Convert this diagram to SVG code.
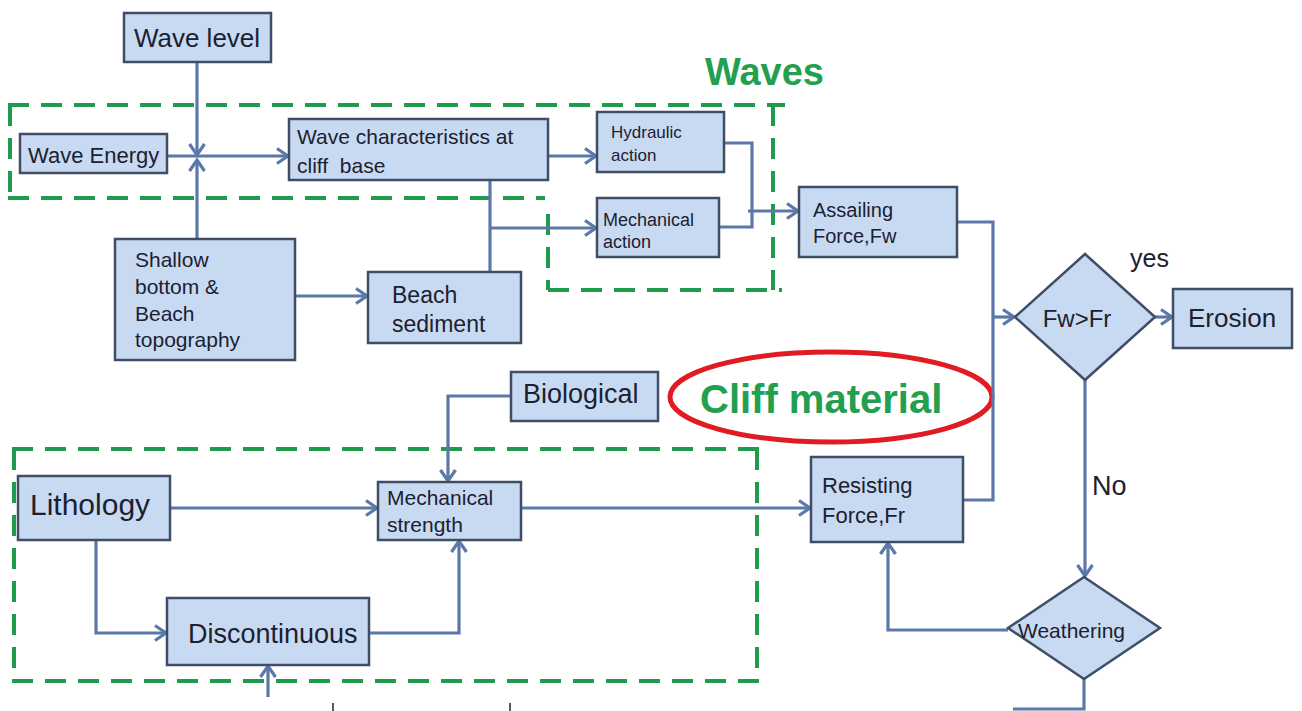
<svg xmlns="http://www.w3.org/2000/svg" width="1302" height="711" viewBox="0 0 1302 711">
<style>
.box{fill:#c8daf2;stroke:#3f4d66;stroke-width:2.5}
.t{font-family:"Liberation Sans",Arial,sans-serif;fill:#1b2130}
.c{fill:none;stroke:#5b78a9;stroke-width:3.2}
.d{fill:none;stroke:#1f9a4e;stroke-width:4;stroke-dasharray:21 12}
.g{font-family:"Liberation Sans",Arial,sans-serif;font-weight:bold;fill:#22a04f}
</style>
<defs>
<marker id="a" markerUnits="userSpaceOnUse" markerWidth="16" markerHeight="18" viewBox="0 0 16 18" refX="12" refY="9" orient="auto">
<path d="M1,1.5 L12,9 L1,16.5" fill="none" stroke="#5b78a9" stroke-width="3.2"/>
</marker>
</defs>
<rect width="1302" height="711" fill="#ffffff"/>

<g id="regions">
<path class="d" d="M8,105 H785 M10,105 V198 M8,198 H545 M548,214 V290 M548,290 H782 M773,105 V290"/>
<path class="d" d="M12,449 H760 M14,449 V668 M12,681 H762 M757,449 V670"/>
<text class="g" x="705" y="85" font-size="38">Waves</text>
<ellipse cx="831" cy="397" rx="161" ry="45" fill="none" stroke="#e01b22" stroke-width="5"/>
<text class="g" x="700" y="413" font-size="40">Cliff material</text>
</g>

<g id="connectors">
<path class="c" d="M197,62 V155" marker-end="url(#a)"/>
<path class="c" d="M197,239 V160" marker-end="url(#a)"/>
<path class="c" d="M167,156 H288" marker-end="url(#a)"/>
<path class="c" d="M548,156 H596" marker-end="url(#a)"/>
<path class="c" d="M490,180 V272"/>
<path class="c" d="M490,228 H596" marker-end="url(#a)"/>
<path class="c" d="M724,143 H752 V227 H719"/>
<path class="c" d="M748,211 H798" marker-end="url(#a)"/>
<path class="c" d="M957,222 H993 V500 H963"/>
<path class="c" d="M993,317 H1014" marker-end="url(#a)"/>
<path class="c" d="M1155,317 H1172" marker-end="url(#a)"/>
<path class="c" d="M1085,380 V576" marker-end="url(#a)"/>
<path class="c" d="M1008,630 H888 V543" marker-end="url(#a)"/>
<path class="c" d="M1084,679 V709 H1013"/>
<path class="c" d="M295,296 H367" marker-end="url(#a)"/>
<path class="c" d="M511,396 H448 V481" marker-end="url(#a)"/>
<path class="c" d="M170,508 H377" marker-end="url(#a)"/>
<path class="c" d="M96,540 V633 H166" marker-end="url(#a)"/>
<path class="c" d="M369,633 H459 V541" marker-end="url(#a)"/>
<path class="c" d="M521,508 H810" marker-end="url(#a)"/>
<path class="c" d="M268,697 V666" marker-end="url(#a)"/>
<path d="M333,703 V711 M510,703 V711" stroke="#222" stroke-width="1.5"/>
</g>

<g id="wave-level"><rect class="box" x="124" y="13" width="147" height="49"/><text class="t" x="197" y="47" font-size="26" text-anchor="middle">Wave level</text></g>
<g id="wave-energy"><rect class="box" x="20" y="134" width="147" height="39"/><text class="t" x="28" y="163" font-size="22">Wave Energy</text></g>
<g id="wave-characteristics"><rect class="box" x="289" y="119" width="259" height="61"/><text class="t" font-size="21" xml:space="preserve"><tspan x="297" y="144">Wave characteristics at</tspan><tspan x="297" y="173">cliff  base</tspan></text></g>
<g id="hydraulic-action"><rect class="box" x="597" y="112" width="127" height="60"/><text class="t" font-size="17"><tspan x="611" y="138">Hydraulic</tspan><tspan x="611" y="161">action</tspan></text></g>
<g id="mechanical-action"><rect class="box" x="597" y="198" width="122" height="59"/><text class="t" font-size="18"><tspan x="603" y="226">Mechanical</tspan><tspan x="603" y="248">action</tspan></text></g>
<g id="assailing-force"><rect class="box" x="799" y="187" width="158" height="70"/><text class="t" font-size="20"><tspan x="813" y="217">Assailing</tspan><tspan x="813" y="243">Force,Fw</tspan></text></g>
<g id="shallow-bottom"><rect class="box" x="115" y="239" width="180" height="121"/><text class="t" font-size="21"><tspan x="135" y="267">Shallow</tspan><tspan x="135" y="294">bottom &amp;</tspan><tspan x="135" y="321">Beach</tspan><tspan x="135" y="347">topography</tspan></text></g>
<g id="beach-sediment"><rect class="box" x="368" y="272" width="153" height="71"/><text class="t" font-size="23"><tspan x="392" y="303">Beach</tspan><tspan x="392" y="332">sediment</tspan></text></g>
<g id="fw-fr"><polygon class="box" points="1085,254 1155,317 1085,380 1015,317"/><text class="t" x="1077" y="327" font-size="24" text-anchor="middle">Fw&gt;Fr</text></g>
<g id="erosion"><rect class="box" x="1173" y="289" width="119" height="59"/><text class="t" x="1188" y="327" font-size="26">Erosion</text></g>
<text class="t" x="1130" y="267" font-size="25">yes</text>
<g id="biological"><rect class="box" x="511" y="372" width="147" height="49"/><text class="t" x="523" y="403" font-size="27">Biological</text></g>
<g id="lithology"><rect class="box" x="18" y="476" width="152" height="64"/><text class="t" x="30" y="515" font-size="30">Lithology</text></g>
<g id="mechanical-strength"><rect class="box" x="378" y="482" width="143" height="58"/><text class="t" font-size="21"><tspan x="387" y="505">Mechanical</tspan><tspan x="387" y="532">strength</tspan></text></g>
<g id="discontinuous"><rect class="box" x="167" y="598" width="202" height="67"/><text class="t" x="188" y="643" font-size="27">Discontinuous</text></g>
<g id="resisting-force"><rect class="box" x="811" y="457" width="152" height="85"/><text class="t" font-size="22"><tspan x="822" y="493">Resisting</tspan><tspan x="822" y="523">Force,Fr</tspan></text></g>
<text class="t" x="1092" y="495" font-size="27">No</text>
<g id="weathering"><polygon class="box" points="1084,577 1160,628 1084,679 1008,628"/><text class="t" x="1018" y="638" font-size="21">Weathering</text></g>
</svg>
